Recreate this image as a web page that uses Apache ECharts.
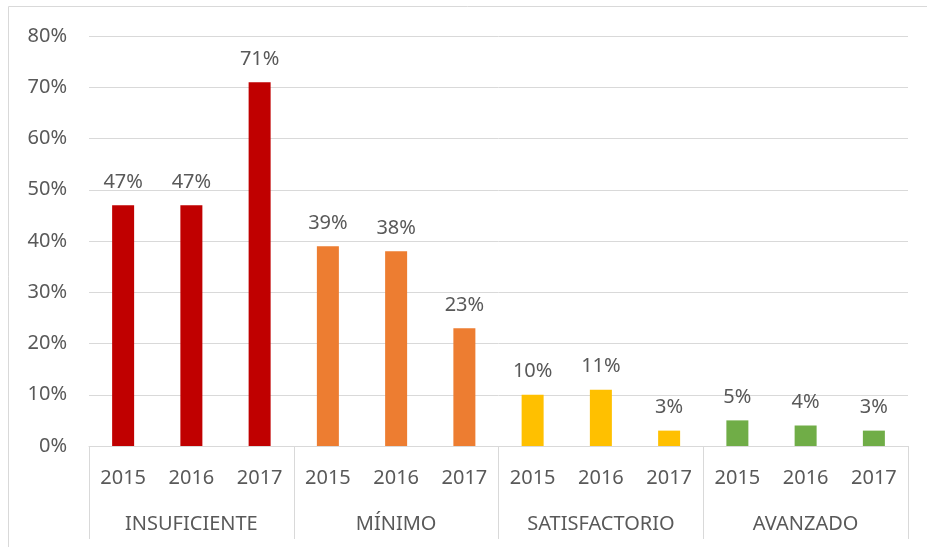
<!DOCTYPE html>
<html>
<head>
<meta charset="utf-8">
<script src="https://cdn.jsdelivr.net/npm/echarts@6/dist/echarts.min.js"></script>
<style>html,body{margin:0;padding:0;background:#fff}#c{width:927px;height:547px}</style>
</head>
<body>
<div id="c"></div>
<script>
const years = ['2015','2016','2017','2015','2016','2017','2015','2016','2017','2015','2016','2017'];
const groups = ['INSUFICIENTE','MÍNIMO','SATISFACTORIO','AVANZADO'];
const values = [47,47,71,39,38,23,10,11,3,5,4,3];
const groupColors = ['#C00000','#ED7D31','#FFC000','#70AD47'];
const yTicks = [0,10,20,30,40,50,60,70,80];

const font = '"Noto Sans", "Open Sans", sans-serif';
const txt = '#595959';
const chart = echarts.init(document.getElementById('c'));
chart.setOption({
  animation: false,
  textStyle: {fontFamily: font},
  grid: {left: 89, right: 19, top: 36, bottom: 101},
  graphic: [
    {type: 'polyline', shape: {points: [[8.5, 547], [8.5, 6.5], [927, 6.5]]}, style: {stroke: '#d9d9d9', lineWidth: 1, fill: null}}
  ],
  xAxis: [
    {
      type: 'category', data: years, position: 'bottom',
      axisLine: {show: true, lineStyle: {color: '#d9d9d9', width: 1}},
      axisTick: {show: false},
      axisLabel: {color: txt, fontSize: 20, margin: 22, fontFamily: font, interval: 0}
    },
    {
      type: 'category', data: groups, position: 'bottom', offset: 0,
      axisLine: {show: false},
      axisTick: {show: true, length: 93, interval: 0, lineStyle: {color: '#d9d9d9', width: 1}},
      axisLabel: {color: txt, fontSize: 20, margin: 68, fontFamily: font, interval: 0}
    }
  ],
  yAxis: {
    type: 'value', min: yTicks[0], max: yTicks[yTicks.length - 1], interval: 10,
    axisLine: {show: false}, axisTick: {show: false},
    splitLine: {lineStyle: {color: '#d9d9d9', width: 1}},
    axisLabel: {color: txt, fontSize: 20, margin: 22, formatter: '{value}%', fontFamily: font}
  },
  series: [{
    type: 'bar', xAxisIndex: 0, barWidth: 22,
    data: values.map((v, i) => ({value: v, itemStyle: {color: groupColors[Math.floor(i / 3)]}})),
    label: {show: true, position: 'top', distance: 13, color: txt, fontSize: 20, fontFamily: font, formatter: '{c}%'}
  }]
});
</script>
</body>
</html>
